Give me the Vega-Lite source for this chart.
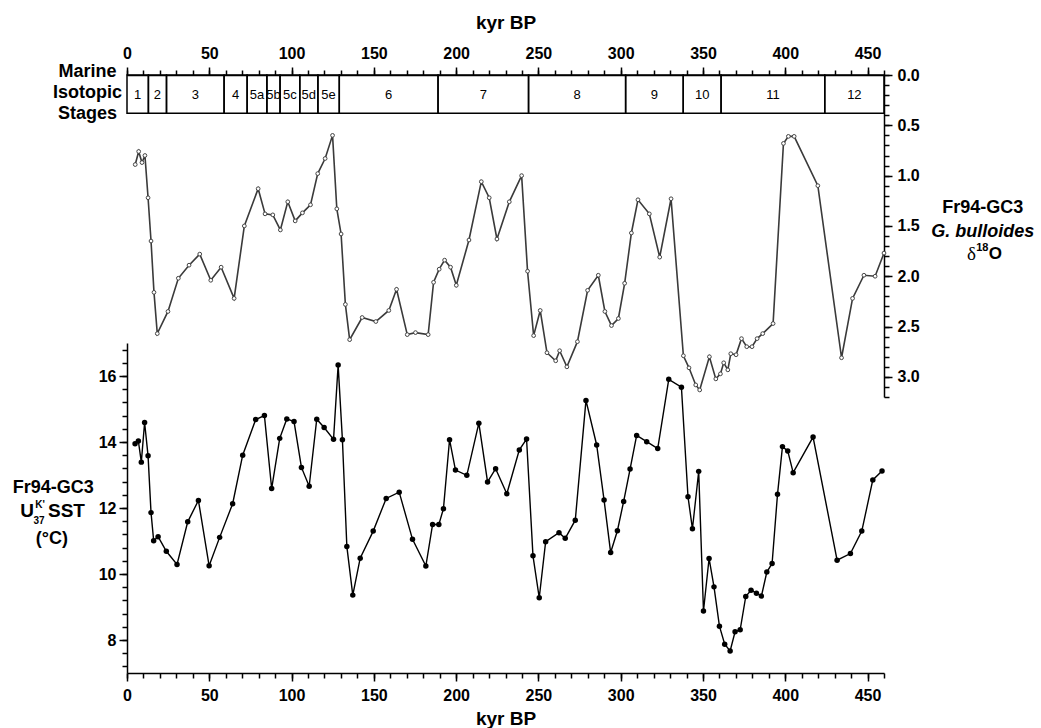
{
  "$schema": "https://vega.github.io/schema/vega-lite/v6.json",
  "autosize": "none",
  "width": 757,
  "height": 598,
  "padding": {"left": 127, "top": 75, "right": 157, "bottom": 55},
  "background": "white",
  "config": {
    "view": {"stroke": null},
    "font": "Liberation Sans",
    "axis": {
      "grid": false,
      "domainColor": "black",
      "domainWidth": 1.5,
      "tickColor": "black",
      "tickWidth": 1.5,
      "labelColor": "black",
      "labelFont": "Liberation Sans",
      "labelFontSize": 16,
      "labelFontWeight": "bold",
      "labelFlush": false,
      "labelBound": false,
      "labelOverlap": false,
      "titleFont": "Liberation Sans",
      "titleFontSize": 19,
      "titleFontWeight": "bold",
      "titleColor": "black"
    }
  },
  "datasets": {
    "d18o": [
      {"age": 5.0, "d18O": 0.89}, {"age": 7.1, "d18O": 0.76}, {"age": 9.1, "d18O": 0.87}, {"age": 10.9, "d18O": 0.80},
      {"age": 12.8, "d18O": 1.22}, {"age": 14.6, "d18O": 1.65}, {"age": 16.4, "d18O": 2.16}, {"age": 18.4, "d18O": 2.57},
      {"age": 24.9, "d18O": 2.35}, {"age": 31.2, "d18O": 2.02}, {"age": 37.7, "d18O": 1.89}, {"age": 44.2, "d18O": 1.78},
      {"age": 50.9, "d18O": 2.04}, {"age": 57.2, "d18O": 1.91}, {"age": 65.1, "d18O": 2.22}, {"age": 71.3, "d18O": 1.50},
      {"age": 79.7, "d18O": 1.13}, {"age": 83.9, "d18O": 1.38}, {"age": 88.6, "d18O": 1.39}, {"age": 93.2, "d18O": 1.54},
      {"age": 97.7, "d18O": 1.26}, {"age": 102.2, "d18O": 1.45}, {"age": 106.6, "d18O": 1.37}, {"age": 111.5, "d18O": 1.29},
      {"age": 115.9, "d18O": 0.98}, {"age": 120.4, "d18O": 0.83}, {"age": 124.9, "d18O": 0.60}, {"age": 127.5, "d18O": 1.33},
      {"age": 130.1, "d18O": 1.58}, {"age": 132.7, "d18O": 2.28}, {"age": 135.3, "d18O": 2.63}, {"age": 142.9, "d18O": 2.41},
      {"age": 151.2, "d18O": 2.45}, {"age": 159.1, "d18O": 2.34}, {"age": 163.8, "d18O": 2.13}, {"age": 170.3, "d18O": 2.58},
      {"age": 175.3, "d18O": 2.56}, {"age": 183.0, "d18O": 2.58}, {"age": 186.3, "d18O": 2.06}, {"age": 189.7, "d18O": 1.93},
      {"age": 193.0, "d18O": 1.84}, {"age": 196.6, "d18O": 1.91}, {"age": 200.1, "d18O": 2.09}, {"age": 207.8, "d18O": 1.64},
      {"age": 215.3, "d18O": 1.06}, {"age": 220.1, "d18O": 1.22}, {"age": 224.8, "d18O": 1.63}, {"age": 232.3, "d18O": 1.26},
      {"age": 239.8, "d18O": 1.00}, {"age": 243.4, "d18O": 1.95}, {"age": 247.1, "d18O": 2.59}, {"age": 251.1, "d18O": 2.34},
      {"age": 255.2, "d18O": 2.76}, {"age": 260.5, "d18O": 2.84}, {"age": 262.9, "d18O": 2.74}, {"age": 267.3, "d18O": 2.90},
      {"age": 273.7, "d18O": 2.65}, {"age": 279.9, "d18O": 2.14}, {"age": 286.4, "d18O": 1.99}, {"age": 290.4, "d18O": 2.35},
      {"age": 294.4, "d18O": 2.49}, {"age": 298.6, "d18O": 2.42}, {"age": 302.4, "d18O": 2.07}, {"age": 306.5, "d18O": 1.57},
      {"age": 310.5, "d18O": 1.24}, {"age": 317.4, "d18O": 1.38}, {"age": 323.7, "d18O": 1.81}, {"age": 330.6, "d18O": 1.23},
      {"age": 338.1, "d18O": 2.79}, {"age": 341.5, "d18O": 2.91}, {"age": 345.6, "d18O": 3.08}, {"age": 348.0, "d18O": 3.13},
      {"age": 353.9, "d18O": 2.80}, {"age": 357.8, "d18O": 3.02}, {"age": 360.6, "d18O": 2.97}, {"age": 362.6, "d18O": 2.86},
      {"age": 365.1, "d18O": 2.93}, {"age": 366.9, "d18O": 2.77}, {"age": 370.1, "d18O": 2.78}, {"age": 373.4, "d18O": 2.62},
      {"age": 376.6, "d18O": 2.70}, {"age": 379.8, "d18O": 2.70}, {"age": 382.9, "d18O": 2.62}, {"age": 386.3, "d18O": 2.57},
      {"age": 392.6, "d18O": 2.47}, {"age": 398.9, "d18O": 0.68}, {"age": 401.9, "d18O": 0.61}, {"age": 405.4, "d18O": 0.61},
      {"age": 419.8, "d18O": 1.10}, {"age": 434.2, "d18O": 2.81}, {"age": 440.9, "d18O": 2.22}, {"age": 447.8, "d18O": 1.99},
      {"age": 454.6, "d18O": 2.00}, {"age": 460.0, "d18O": 1.77}
    ],
    "sst": [
      {"age": 4.9, "sst": 13.95}, {"age": 6.9, "sst": 14.03}, {"age": 8.7, "sst": 13.39}, {"age": 10.7, "sst": 14.59},
      {"age": 12.8, "sst": 13.58}, {"age": 14.6, "sst": 11.86}, {"age": 16.2, "sst": 11.01}, {"age": 18.9, "sst": 11.13},
      {"age": 23.9, "sst": 10.69}, {"age": 30.4, "sst": 10.29}, {"age": 36.9, "sst": 11.58}, {"age": 43.4, "sst": 12.23},
      {"age": 49.9, "sst": 10.25}, {"age": 56.3, "sst": 11.11}, {"age": 64.2, "sst": 12.13}, {"age": 70.3, "sst": 13.60},
      {"age": 78.2, "sst": 14.68}, {"age": 83.5, "sst": 14.80}, {"age": 87.9, "sst": 12.59}, {"age": 92.8, "sst": 14.11},
      {"age": 97.1, "sst": 14.70}, {"age": 101.5, "sst": 14.62}, {"age": 106.0, "sst": 13.23}, {"age": 110.7, "sst": 12.66},
      {"age": 115.3, "sst": 14.69}, {"age": 119.8, "sst": 14.44}, {"age": 125.5, "sst": 14.08}, {"age": 128.3, "sst": 16.33},
      {"age": 130.9, "sst": 14.07}, {"age": 133.6, "sst": 10.83}, {"age": 137.2, "sst": 9.36}, {"age": 141.7, "sst": 10.48},
      {"age": 149.6, "sst": 11.30}, {"age": 157.5, "sst": 12.29}, {"age": 165.4, "sst": 12.48}, {"age": 173.5, "sst": 11.05},
      {"age": 181.6, "sst": 10.24}, {"age": 185.7, "sst": 11.50}, {"age": 189.5, "sst": 11.50}, {"age": 192.3, "sst": 11.98},
      {"age": 196.0, "sst": 14.07}, {"age": 199.6, "sst": 13.15}, {"age": 206.5, "sst": 12.99}, {"age": 213.8, "sst": 14.57},
      {"age": 219.1, "sst": 12.79}, {"age": 224.0, "sst": 13.19}, {"age": 230.8, "sst": 12.43}, {"age": 238.4, "sst": 13.76},
      {"age": 242.8, "sst": 14.09}, {"age": 246.7, "sst": 10.55}, {"age": 250.5, "sst": 9.28}, {"age": 254.4, "sst": 10.98},
      {"age": 262.5, "sst": 11.25}, {"age": 266.3, "sst": 11.08}, {"age": 272.4, "sst": 11.63}, {"age": 278.9, "sst": 15.26},
      {"age": 285.4, "sst": 13.91}, {"age": 289.9, "sst": 12.24}, {"age": 293.9, "sst": 10.65}, {"age": 298.0, "sst": 11.31},
      {"age": 301.8, "sst": 12.20}, {"age": 305.7, "sst": 13.18}, {"age": 309.7, "sst": 14.20}, {"age": 315.8, "sst": 14.01},
      {"age": 322.5, "sst": 13.80}, {"age": 329.2, "sst": 15.90}, {"age": 336.9, "sst": 15.66}, {"age": 340.9, "sst": 12.34},
      {"age": 343.6, "sst": 11.37}, {"age": 347.4, "sst": 13.11}, {"age": 350.3, "sst": 8.88}, {"age": 353.7, "sst": 10.47},
      {"age": 356.7, "sst": 9.61}, {"age": 360.0, "sst": 8.42}, {"age": 363.2, "sst": 7.87}, {"age": 366.5, "sst": 7.67},
      {"age": 369.5, "sst": 8.25}, {"age": 372.6, "sst": 8.31}, {"age": 376.0, "sst": 9.32}, {"age": 379.2, "sst": 9.51},
      {"age": 382.5, "sst": 9.42}, {"age": 385.5, "sst": 9.33}, {"age": 388.8, "sst": 10.06}, {"age": 392.0, "sst": 10.32},
      {"age": 395.3, "sst": 12.42}, {"age": 398.3, "sst": 13.86}, {"age": 401.5, "sst": 13.73}, {"age": 404.8, "sst": 13.07},
      {"age": 416.9, "sst": 14.15}, {"age": 431.5, "sst": 10.42}, {"age": 439.6, "sst": 10.62}, {"age": 446.5, "sst": 11.30},
      {"age": 453.2, "sst": 12.85}, {"age": 458.8, "sst": 13.12}
    ],
    "stages": [
      {"stage": "1", "start": 0, "end": 13, "mid": 6.5},
      {"stage": "2", "start": 13, "end": 24, "mid": 18.5},
      {"stage": "3", "start": 24, "end": 59, "mid": 41.5},
      {"stage": "4", "start": 59, "end": 73, "mid": 66},
      {"stage": "5a", "start": 73, "end": 85, "mid": 79},
      {"stage": "5b", "start": 85, "end": 93, "mid": 89},
      {"stage": "5c", "start": 93, "end": 105, "mid": 99},
      {"stage": "5d", "start": 105, "end": 116, "mid": 110.5},
      {"stage": "5e", "start": 116, "end": 129, "mid": 122.5},
      {"stage": "6", "start": 129, "end": 189, "mid": 159},
      {"stage": "7", "start": 189, "end": 244, "mid": 216.5},
      {"stage": "8", "start": 244, "end": 303, "mid": 273.5},
      {"stage": "9", "start": 303, "end": 338, "mid": 320.5},
      {"stage": "10", "start": 338, "end": 361, "mid": 349.5},
      {"stage": "11", "start": 361, "end": 424, "mid": 392.5},
      {"stage": "12", "start": 424, "end": 460, "mid": 442}
    ],
    "one": [{"k": 1}]
  },
  "resolve": {"scale": {"y": "independent"}, "axis": {"x": "independent", "y": "independent"}},
  "layer": [
    {
      "resolve": {"axis": {"x": "independent", "y": "independent"}},
      "layer": [
        {
          "data": {"name": "stages"},
          "mark": {"type": "rect", "filled": false, "stroke": "black", "strokeWidth": 1.5},
          "encoding": {
            "x": {"field": "start", "type": "quantitative", "scale": {"domain": [0, 460], "nice": false, "zero": false}, "axis": null},
            "x2": {"field": "end"},
            "y": {"datum": 0, "type": "quantitative", "scale": {"domain": [0, 3.2], "range": [0, 322], "nice": false, "zero": false}, "axis": null},
            "y2": {"datum": 0.38}
          }
        },
        {
          "data": {"name": "stages"},
          "mark": {"type": "text", "font": "Liberation Sans", "fontSize": 13, "color": "black", "baseline": "middle", "align": "center"},
          "encoding": {
            "x": {"field": "mid", "type": "quantitative", "axis": null},
            "y": {"datum": 0.2, "type": "quantitative", "axis": null},
            "text": {"field": "stage"}
          }
        },
        {
          "data": {"name": "one"},
          "mark": {"type": "text", "text": ["Marine", "Isotopic", "Stages"], "font": "Liberation Sans", "fontWeight": "bold", "fontSize": 18, "lineHeight": 21, "color": "black", "baseline": "middle", "align": "center"},
          "encoding": {
            "x": {"datum": -24, "type": "quantitative", "axis": null},
            "y": {"datum": -0.03, "type": "quantitative", "axis": null}
          }
        },
        {
          "data": {"name": "d18o"},
          "mark": {"type": "line", "color": "#3a3a3a", "strokeWidth": 1.6},
          "encoding": {
            "x": {"field": "age", "type": "quantitative",
              "axis": {"orient": "top", "values": [0, 50, 100, 150, 200, 250, 300, 350, 400, 450], "tickSize": 8, "labelPadding": 6, "title": "kyr BP", "titlePadding": 13}},
            "y": {"field": "d18O", "type": "quantitative",
              "axis": {"orient": "right", "values": [0, 0.5, 1, 1.5, 2, 2.5, 3], "format": ".1f", "tickSize": 8, "labelPadding": 5, "title": null}}
          }
        },
        {
          "data": {"name": "d18o"},
          "mark": {"type": "point", "shape": "circle", "filled": true, "fill": "white", "stroke": "#444444", "strokeWidth": 1, "size": 14, "opacity": 1},
          "encoding": {
            "x": {"field": "age", "type": "quantitative",
              "axis": {"orient": "top", "values": [0, 10, 20, 30, 40, 50, 60, 70, 80, 90, 100, 110, 120, 130, 140, 150, 160, 170, 180, 190, 200, 210, 220, 230, 240, 250, 260, 270, 280, 290, 300, 310, 320, 330, 340, 350, 360, 370, 380, 390, 400, 410, 420, 430, 440, 450, 460], "tickSize": 5, "labels": false, "domain": false, "title": null}},
            "y": {"field": "d18O", "type": "quantitative",
              "axis": {"orient": "right", "values": [0, 0.1, 0.2, 0.3, 0.4, 0.5, 0.6, 0.7, 0.8, 0.9, 1, 1.1, 1.2, 1.3, 1.4, 1.5, 1.6, 1.7, 1.8, 1.9, 2, 2.1, 2.2, 2.3, 2.4, 2.5, 2.6, 2.7, 2.8, 2.9, 3, 3.1, 3.2], "tickSize": 5, "labels": false, "domain": false, "title": null}}
          }
        },
        {
          "data": {"name": "one"},
          "mark": {"type": "text", "text": "Fr94-GC3", "font": "Liberation Sans", "fontWeight": "bold", "fontSize": 18, "color": "black", "baseline": "middle", "align": "center"},
          "encoding": {
            "x": {"datum": 520, "type": "quantitative", "axis": null},
            "y": {"datum": 1.32, "type": "quantitative", "axis": null}
          }
        },
        {
          "data": {"name": "one"},
          "mark": {"type": "text", "text": "G. bulloides", "font": "Liberation Sans", "fontWeight": "bold", "fontStyle": "italic", "fontSize": 18, "color": "black", "baseline": "middle", "align": "center"},
          "encoding": {
            "x": {"datum": 520, "type": "quantitative", "axis": null},
            "y": {"datum": 1.56, "type": "quantitative", "axis": null}
          }
        },
        {
          "data": {"name": "one"},
          "mark": {"type": "text", "text": "δ", "font": "Liberation Serif", "fontSize": 19, "color": "black", "baseline": "middle", "align": "left"},
          "encoding": {
            "x": {"datum": 510.4, "type": "quantitative", "axis": null},
            "y": {"datum": 1.78, "type": "quantitative", "axis": null}
          }
        },
        {
          "data": {"name": "one"},
          "mark": {"type": "text", "text": "18", "font": "Liberation Sans", "fontWeight": "bold", "fontSize": 11, "color": "black", "baseline": "middle", "align": "left"},
          "encoding": {
            "x": {"datum": 516, "type": "quantitative", "axis": null},
            "y": {"datum": 1.72, "type": "quantitative", "axis": null}
          }
        },
        {
          "data": {"name": "one"},
          "mark": {"type": "text", "text": "O", "font": "Liberation Sans", "fontWeight": "bold", "fontSize": 17, "color": "black", "baseline": "middle", "align": "left"},
          "encoding": {
            "x": {"datum": 523.6, "type": "quantitative", "axis": null},
            "y": {"datum": 1.78, "type": "quantitative", "axis": null}
          }
        }
      ]
    },
    {
      "resolve": {"axis": {"x": "independent", "y": "independent"}},
      "layer": [
        {
          "data": {"name": "sst"},
          "mark": {"type": "line", "color": "black", "strokeWidth": 1.4},
          "encoding": {
            "x": {"field": "age", "type": "quantitative", "scale": {"domain": [0, 460], "nice": false, "zero": false},
              "axis": {"orient": "bottom", "values": [0, 50, 100, 150, 200, 250, 300, 350, 400, 450], "tickSize": 8, "labelPadding": 6, "title": "kyr BP", "titlePadding": 6}},
            "y": {"field": "sst", "type": "quantitative", "scale": {"domain": [7, 17], "range": [598, 268], "nice": false, "zero": false},
              "axis": {"orient": "left", "values": [8, 10, 12, 14, 16], "tickSize": 8, "labelPadding": 3, "title": null}}
          }
        },
        {
          "data": {"name": "sst"},
          "mark": {"type": "point", "shape": "circle", "filled": true, "color": "black", "size": 30, "opacity": 1},
          "encoding": {
            "x": {"field": "age", "type": "quantitative",
              "axis": {"orient": "bottom", "values": [0, 10, 20, 30, 40, 50, 60, 70, 80, 90, 100, 110, 120, 130, 140, 150, 160, 170, 180, 190, 200, 210, 220, 230, 240, 250, 260, 270, 280, 290, 300, 310, 320, 330, 340, 350, 360, 370, 380, 390, 400, 410, 420, 430, 440, 450, 460], "tickSize": 5, "labels": false, "domain": false, "title": null}},
            "y": {"field": "sst", "type": "quantitative",
              "axis": {"orient": "left", "values": [7.2, 7.6, 8, 8.4, 8.8, 9.2, 9.6, 10, 10.4, 10.8, 11.2, 11.6, 12, 12.4, 12.8, 13.2, 13.6, 14, 14.4, 14.8, 15.2, 15.6, 16, 16.4, 16.8], "tickSize": 5, "labels": false, "domain": false, "title": null}}
          }
        },
        {
          "data": {"name": "one"},
          "mark": {"type": "text", "text": "Fr94-GC3", "font": "Liberation Sans", "fontWeight": "bold", "fontSize": 18, "color": "black", "baseline": "middle", "align": "center"},
          "encoding": {
            "x": {"datum": -44.8, "type": "quantitative", "axis": null},
            "y": {"datum": 12.6, "type": "quantitative", "axis": null}
          }
        },
        {
          "data": {"name": "one"},
          "mark": {"type": "text", "text": "U", "font": "Liberation Sans", "fontWeight": "bold", "fontSize": 19, "color": "black", "baseline": "middle", "align": "left"},
          "encoding": {
            "x": {"datum": -64.9, "type": "quantitative", "axis": null},
            "y": {"datum": 11.92, "type": "quantitative", "axis": null}
          }
        },
        {
          "data": {"name": "one"},
          "mark": {"type": "text", "text": "K'", "font": "Liberation Sans", "fontWeight": "bold", "fontSize": 10, "color": "black", "baseline": "middle", "align": "left"},
          "encoding": {
            "x": {"datum": -55.8, "type": "quantitative", "axis": null},
            "y": {"datum": 12.1, "type": "quantitative", "axis": null}
          }
        },
        {
          "data": {"name": "one"},
          "mark": {"type": "text", "text": "37", "font": "Liberation Sans", "fontWeight": "bold", "fontSize": 10, "color": "black", "baseline": "middle", "align": "left"},
          "encoding": {
            "x": {"datum": -56.8, "type": "quantitative", "axis": null},
            "y": {"datum": 11.6, "type": "quantitative", "axis": null}
          }
        },
        {
          "data": {"name": "one"},
          "mark": {"type": "text", "text": "SST", "font": "Liberation Sans", "fontWeight": "bold", "fontSize": 19, "color": "black", "baseline": "middle", "align": "left"},
          "encoding": {
            "x": {"datum": -48.0, "type": "quantitative", "axis": null},
            "y": {"datum": 11.92, "type": "quantitative", "axis": null}
          }
        },
        {
          "data": {"name": "one"},
          "mark": {"type": "text", "text": "(°C)", "font": "Liberation Sans", "fontWeight": "bold", "fontSize": 18, "color": "black", "baseline": "middle", "align": "center"},
          "encoding": {
            "x": {"datum": -45.6, "type": "quantitative", "axis": null},
            "y": {"datum": 11.06, "type": "quantitative", "axis": null}
          }
        }
      ]
    }
  ]
}
